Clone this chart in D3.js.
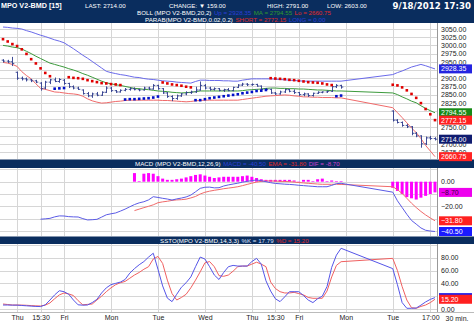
<!DOCTYPE html>
<html><head><meta charset="utf-8">
<script src="https://cdn.jsdelivr.net/npm/d3@7"></script>
<style>body{margin:0;background:#fff}svg{display:block}text{font-family:"Liberation Sans",Arial,sans-serif}</style>
</head><body><svg id="c" width="474" height="325"></svg>
<script>
// ---------- DATA ----------
const barIndex = d3.range(0, 73).concat(d3.range(83, 93)); // bar slots (Mon 17 Sep holiday empty)
const xTicks = [3, 8, 13, 23, 33, 43, 53, 58, 63, 73, 83, 91];
const xTickLabels = ["Thu","15:30","Fri","Mon","Tue","Wed","Thu","15:30","Fri","Mon","Tue","17:00"];
const priceTicks = [2675,2700,2725,2750,2775,2800,2825,2850,2875,2900,2925,2950,2975,3000,3025,3050];
const macdGrid = [-40,-30,-20,-10,0,10];
const macdTicks = [-40,-20,0];
const sstoGrid = [0,20,40,60,80,100];
const sstoTicks = [0,20,40,60,80];

const open = [2955,2952,2950,2918,2900,2898,2895,2892,2885,2870,
  2888,2895,2890,2894,2884,2874,2870,2864,2853,2846,
  2852,2848,2857,2870,2862,2858,2863,2866,2868,2865,
  2864,2870,2867,2878,2868,2855,2844,2838,2846,2852,
  2856,2858,2864,2878,2870,2866,2868,2863,2865,2862,
  2872,2879,2882,2880,2881,2876,2866,2866,2855,2852,
  2858,2865,2860,2856,2850,2852,2847,2854,2857,2858,
  2860,2874,2878,
  2800,2772,2765,2756,2752,2732,2724,2700,2718,2716];
const high = [2958,2956,2965,2920,2905,2902,2898,2895,2888,2892,
  2898,2902,2900,2898,2886,2878,2874,2866,2858,2856,
  2858,2860,2875,2874,2864,2866,2870,2872,2872,2868,
  2874,2874,2882,2880,2870,2858,2848,2850,2855,2860,
  2862,2874,2890,2882,2874,2872,2870,2868,2870,2874,
  2882,2886,2885,2884,2883,2878,2870,2868,2858,2862,
  2868,2868,2866,2858,2856,2854,2856,2860,2860,2862,
  2878,2882,2880,
  2802,2775,2768,2760,2754,2736,2726,2722,2724,2720];
const low = [2948,2946,2937,2895,2893,2890,2888,2885,2862,2866,
  2882,2888,2886,2880,2870,2866,2864,2850,2842,2840,
  2845,2846,2855,2858,2855,2856,2860,2862,2863,2860,
  2862,2864,2865,2865,2852,2840,2830,2834,2843,2848,
  2852,2855,2862,2866,2862,2862,2860,2858,2860,2860,
  2870,2876,2876,2877,2874,2864,2865,2852,2849,2850,
  2855,2857,2852,2846,2845,2843,2844,2852,2854,2855,
  2858,2870,2868,
  2768,2762,2752,2748,2726,2720,2688,2696,2712,2710];
const close = [2952,2950,2945,2900,2898,2895,2892,2888,2868,2888,
  2895,2890,2896,2884,2874,2870,2866,2853,2846,2852,
  2848,2857,2870,2862,2858,2863,2866,2868,2865,2864,
  2870,2867,2878,2868,2855,2844,2838,2846,2852,2856,
  2858,2864,2878,2870,2866,2868,2863,2865,2862,2872,
  2879,2882,2880,2881,2876,2866,2866,2855,2852,2858,
  2865,2860,2856,2850,2852,2847,2854,2857,2858,2860,
  2874,2878,2873,
  2772,2765,2756,2752,2732,2724,2700,2718,2716,2714];

const bollUp = [3056,3055,3053,3052,3050,3045,3041,3036,3031,3027,
  3022,3017,3013,3008,2999,2990,2980,2970,2961,2951,
  2941,2931,2921,2917,2914,2911,2909,2906,2903,2902,
  2899,2897,2896,2894,2892,2891,2890,2888,2887,2886,
  2885,2890,2894,2894,2893,2893,2893,2892,2892,2891,
  2891,2894,2896,2898,2898,2898,2898,2898,2897,2896,
  2895,2894,2893,2892,2891,2891,2891,2891,2891,2891,
  2891,2891,2891,
  2911,2917,2922,2928,2934,2938,2942,2938,2933,2928.35];
const bollMid = [3000,2998,2995,2993,2989,2982,2975,2967,2960,2953,
  2946,2942,2938,2934,2929,2925,2920,2914,2909,2903,
  2897,2891,2886,2883,2880,2878,2875,2872,2869,2868,
  2866,2865,2863,2861,2860,2859,2857,2856,2855,2856,
  2857,2859,2861,2861,2861,2861,2861,2861,2861,2861,
  2861,2862,2864,2865,2866,2867,2869,2870,2870,2869,
  2869,2868,2868,2867,2867,2866,2865,2864,2864,2863,
  2862,2861,2861,
  2855,2850,2843,2837,2830,2825,2816,2808,2801,2794.55];
const bollLo = [2948,2946,2942,2936,2920,2908,2898,2883,2869,2866,
  2862,2858,2857,2855,2853,2852,2850,2845,2837,2831,
  2827,2824,2825,2827,2829,2830,2832,2833,2833,2833,
  2833,2833,2833,2833,2832,2832,2831,2830,2829,2828,
  2829,2831,2832,2833,2833,2833,2833,2833,2833,2833,
  2833,2835,2837,2839,2841,2843,2845,2846,2847,2848,
  2849,2848,2846,2845,2843,2843,2842,2842,2841,2841,
  2841,2840,2840,
  2810,2795,2780,2764,2748,2734,2716,2695,2678,2660.75];

const sar = [3019,3012,3004,2998,2988,2974,2958,2945,2930,2916,2906,
  2868,2869,2870,
  2903,2901,2900,2898,2894,2891,2888,2885,2884,2882,2881,2879,
  2835,2836,2836,2837,2838,2839,2841,2844,
  2887,2884,2881,2879,2877,2874,2872,
  2833,2833,2836,2839,2841,2843,2845,2847,2849,2851,2854,2856,2858,2861,2862,2864,
  2900,2899,2898,2897,2895,2894,2892,2890,2888,2887,2886,2884,2881,2879,
  2845,2847,
  2880,2878,2872,2863,2852,2840,2824,2806,2790,2772.15];
const sarSide = ("SSSSSSSSSSS" + "LLL" + "SSSSSSSSSSSS" + "LLLLLLLL" + "SSSSSSS" +
  "LLLLLLLLLLLLLLLL" + "SSSSSSSSSSSSSS" + "LL" + "SSSSSSSSSS").split("");

const macd = [null,null,null,null,null,null,null,null,-30.5,-30.2,
  -29.8,-28.6,-27.8,-27.9,-28.4,-28.6,-28.7,-30.0,-31.1,-30.9,
  -30.6,-28.8,-26.9,-26.1,-25.4,-23.9,-22.3,-20.4,-18.6,-17.2,
  -16.3,-14.8,-12.2,-12.8,-13.5,-14.1,-14.9,-14.0,-13.3,-12.4,
  -10.9,-8.2,-5.4,-4.5,-4.4,-5.0,-4.9,-3.5,-2.6,-1.9,
  -1.2,-0.4,0.3,0.9,1.4,0.8,0,-0.8,-1.4,-1.7,
  -2.0,-2.2,-2.5,-2.9,-3.2,-3.5,-3.8,-4.1,-4.1,-4.1,
  -3.0,-1.6,-1.3,
  -8.5,-15.5,-21,-26.5,-31.5,-34.5,-37.6,-39.5,-40.1,-40.5];
const macdSignal = [null,null,null,null,null,null,null,null,null,null,
  null,null,null,null,null,null,null,null,null,null,
  null,null,null,null,null,null,null,null,-23.5,-22.3,
  -21.1,-20.0,-18.8,-17.1,-16.4,-15.9,-15.2,-14.8,-14.6,-14.2,
  -13.2,-12.0,-10.0,-8.6,-7.7,-7.0,-6.4,-5.7,-5.2,-4.7,
  -4.1,-3.2,-2.2,-1.2,-0.3,0.3,0.6,0.6,0.5,0.3,
  0.2,0,-0.3,-0.7,-1.0,-1.3,-1.6,-1.9,-2.1,-2.1,
  -2.1,-2.1,-2.2,
  -4.1,-6.5,-9.5,-13.5,-17.5,-21.0,-24.2,-27.0,-29.5,-31.8];
const macdHist = [null,null,null,null,null,null,null,null,null,null,
  null,null,null,null,null,null,null,null,null,null,
  null,null,null,null,null,null,null,null,7,0.5,
  6.5,7,6.5,4.5,2.5,1.5,1.5,2,2.5,3.5,
  4.5,5.5,6,5,4,3,3.5,4,4,4,
  4,4.5,5,4,3,2,1.5,1.5,1.5,1.5,
  1.5,1.5,1,0,1.5,1.5,0.5,2,2.5,0.5,
  1,0.5,0.3,
  -5,-7.5,-10,-12.5,-13.5,-14.5,-13,-11.5,-10,-8.7];

const stochK = [6.2,6.2,6,6,5.5,5,4.5,4,3.8,6.5,
  14,22,28.5,27,23,14,6.5,6,6.2,10,
  15,25,33,38,40,42,46,56,63,69,
  74,81,87,62,36,17,11.5,23,34,41,
  50,66,81,78,66,53,46,57,66,68,
  67,67,67,74,79,70,44,28,16,11.5,
  19,27,27,27,21,14,10,16,20,35,
  65,84,94.7,
  63,38,10,1.1,1.1,1.5,6,11,15,17.79];
const stochD = [7.8,7,6.2,6.2,6.1,5.8,5.3,4.9,4.7,6,
  9.5,16,22,25,23.5,21,13,6.5,7.2,7.8,
  14,20,27,33,38,41,43,48,53,57,
  62,66,78,82,71,45,24,14,18,23,
  33,45,58,72,74,66,52,51,53,59,
  66,67,67,70,73,70,66,42,32,27,
  25,25,26,24,22,18,16.7,16.7,16.7,28,
  50,68,73.8,
  79,60,35,14,2,1.1,4,6.2,10,15.2];

// header texts
const hdrTitle = "MPO V2-BMD [15]";
const hdrLast = "LAST: 2714.00";
const hdrChange = "CHANGE: \u25BC 159.00";
const hdrHigh = "HIGH: 2791.00";
const hdrLow = "LOW: 2603.00";
const hdrDate = "9/18/2012 17:30";
const bollLegend = [["BOLL (MPO V2-BMD,20,2)","#ffffff"],["Up = 2928.35","#2a3fd8"],["MA = 2794.55","#2e9a2e"],["Lo = 2660.75","#e02a2a"]];
const parabLegend = [["PARAB(MPO V2-BMD,0.02,0.2)","#ffffff"],["SHORT = 2772.15","#e02a2a"],["LONG = 0.00","#2a3fd8"]];
const macdLegend = [["MACD (MPO V2-BMD,12,26,9)","#ffffff"],["MACD = -40.50","#2a3fd8"],["EMA = -31.80","#e02a2a"],["DIF = -8.70","#d040d0"]];
const sstoLegend = [["SSTO(MPO V2-BMD,14,3,3)","#ffffff"],["%K = 17.79","#dde2ff"],["%D = 15.20","#e02a2a"]];

// ---------- DRAW ----------
const svg = d3.select("#c");
const NAVY = "#0a2d5e", GRID = "#d6d6d6", PR = 437;
const x = d3.scaleLinear().domain([0, 92]).range([3, 435]);
const yP = d3.scaleLinear().domain([2653.6, 3068.3]).range([159, 23]);
const yM = d3.scaleLinear().domain([-44.15, 11.14]).range([236, 168]);
const yS = d3.scaleLinear().domain([-4.68, 101.4]).range([312, 244]);
const bars = barIndex.map((k, i) => ({k, i}));
const last = barIndex.length - 1;

svg.append("rect").attr("width", 474).attr("height", 325).attr("fill", "#fff");

function grid(ys, vals, top, bot) {
  const g = svg.append("g");
  g.selectAll("line.h").data(vals).join("line")
    .attr("x1", 0).attr("x2", PR).attr("y1", d => Math.round(ys(d)) + 0.5).attr("y2", d => Math.round(ys(d)) + 0.5)
    .attr("stroke", GRID);
  g.selectAll("line.v").data(xTicks).join("line")
    .attr("x1", d => Math.round(x(d)) + 0.5).attr("x2", d => Math.round(x(d)) + 0.5)
    .attr("y1", top).attr("y2", bot).attr("stroke", GRID);
}
grid(yP, priceTicks, 23, 159);
grid(yM, macdGrid, 168, 236);
grid(yS, sstoGrid, 244, 312);

// header bars
svg.append("rect").attr("x", 0).attr("y", 0).attr("width", 474).attr("height", 23).attr("fill", NAVY);
svg.append("rect").attr("x", 0).attr("y", 159.5).attr("width", 474).attr("height", 8.5).attr("fill", NAVY);
svg.append("rect").attr("x", 0).attr("y", 236.5).attr("width", 474).attr("height", 7.5).attr("fill", NAVY);

// frame lines
[[23, 159.5], [168, 236.5], [244, 312]].forEach(([a, b]) =>
  svg.append("line").attr("x1", PR + 0.5).attr("x2", PR + 0.5).attr("y1", a).attr("y2", b).attr("stroke", "#999"));
svg.append("line").attr("x1", 0).attr("x2", 474).attr("y1", 312.5).attr("y2", 312.5).attr("stroke", "#bbb");

// header texts
function seq(x0, y, parts, size) {
  let cx = x0;
  parts.forEach(([t, c]) => {
    const n = svg.append("text").attr("x", cx).attr("y", y).attr("fill", c).attr("font-size", size).text(t);
    cx += n.node().getComputedTextLength() + 2.5;
  });
}
const hdr = (t, xx, y, size, bold, anchor) => svg.append("text").attr("x", xx).attr("y", y).attr("fill", "#fff")
  .attr("font-size", size).attr("font-weight", bold ? "bold" : "normal").attr("text-anchor", anchor || "start").text(t);
hdr(hdrTitle, 1, 8, 7.2, true);
hdr(hdrLast, 85, 8, 6.2);
hdr(hdrChange, 169, 8, 6.2);
hdr(hdrHigh, 267, 8, 6.2);
hdr(hdrLow, 327, 8, 6.2);
hdr(hdrDate, 471, 8.5, 8.6, true, "end").style("font-family", "'DejaVu Sans',sans-serif");
seq(137, 15, bollLegend, 6.2);
seq(145, 21.8, parabLegend, 6.2);
seq(135, 166, macdLegend, 6.2);
seq(160, 242.5, sstoLegend, 6.2);

// Bollinger bands
const lineOf = (arr, ys) => d3.line().defined(d => arr[d.i] != null).x(d => x(d.k)).y(d => ys(arr[d.i]));
[[bollUp, "#6a6aea"], [bollMid, "#3c9a3c"], [bollLo, "#f06a6a"]].forEach(([arr, c]) => {
  svg.append("path").datum(bars).attr("d", lineOf(arr, yP)).attr("fill", "none").attr("stroke", c).attr("stroke-width", 1);
});

// OHLC bars
svg.append("g").selectAll("path").data(bars).join("path")
  .attr("d", d => {
    const xx = Math.round(x(d.k)) + 0.5;
    return `M${xx},${yP(high[d.i])}V${yP(low[d.i])}M${xx - 1.8},${yP(open[d.i])}H${xx}M${xx},${yP(close[d.i])}H${xx + 1.8}`;
  })
  .attr("fill", "none").attr("stroke", "#2c3a8c").attr("stroke-width", 0.9);

// Parabolic SAR
svg.append("g").selectAll("rect").data(bars).join("rect")
  .attr("x", d => x(d.k) - 1.3).attr("y", d => yP(sar[d.i]) - 1.3).attr("width", 2.6).attr("height", 2.6)
  .attr("fill", d => sarSide[d.i] === "S" ? "#e00000" : "#0010c8");

// MACD
svg.append("g").selectAll("rect").data(bars.filter(d => macdHist[d.i] != null)).join("rect")
  .attr("x", d => x(d.k) - 1.5).attr("width", 3)
  .attr("y", d => Math.min(yM(0), yM(macdHist[d.i])))
  .attr("height", d => Math.max(0.6, Math.abs(yM(macdHist[d.i]) - yM(0))))
  .attr("fill", "#ff00ff");
svg.append("path").datum(bars).attr("d", lineOf(macdSignal, yM)).attr("fill", "none").attr("stroke", "#f06a6a");
svg.append("path").datum(bars).attr("d", lineOf(macd, yM)).attr("fill", "none").attr("stroke", "#5b5be6");

// Stochastic
svg.append("path").datum(bars).attr("d", lineOf(stochD, yS)).attr("fill", "none").attr("stroke", "#f06060");
svg.append("path").datum(bars).attr("d", lineOf(stochK, yS)).attr("fill", "none").attr("stroke", "#5555e8");

// value boxes (drawn in order; later boxes cover earlier)
const priceBoxes = [[bollUp[last], "#2424e0", "#fff", true], [bollMid[last], "#168a16", "#fff", true],
  [sar[last], "#ff2020", "#fff", true], [close[last], "#101c70", "#fff", true], [bollLo[last], "#ff2424", "#fff", true]];
const macdBoxes = [[macdHist[last], "#ee00ee", "#3a003a", true], [macdSignal[last], "#ff2020", "#fff", true],
  [macd[last], "#1a1aff", "#fff", true]];
const sstoBoxes = [[stochK[last], "#2020e8", "#fff", false], [stochD[last], "#ff2020", "#fff", true]];

// right axes: tick labels covered by a value box are left out
function rightAxis(ys, vals, boxes) {
  const shown = vals.filter(v => !boxes.some(b => Math.abs(ys(b[0]) - ys(v)) < 4.5));
  const g = svg.append("g").attr("transform", `translate(${PR + 1},0)`)
    .call(d3.axisRight(ys).tickValues(shown).tickFormat(d3.format(".2f")).tickSize(0).tickPadding(3));
  g.select(".domain").remove();
  g.selectAll("text").attr("font-size", 7).attr("fill", "#222").style("font-family", "'Liberation Sans',Arial,sans-serif");
}
rightAxis(yP, priceTicks, priceBoxes);
rightAxis(yM, macdTicks, macdBoxes);
rightAxis(yS, sstoTicks, sstoBoxes);

function box(ys, [v, bg, fg, withText]) {
  const yy = ys(v);
  svg.append("rect").attr("x", 439).attr("y", yy - 4.5).attr("width", 33).attr("height", 9).attr("fill", bg);
  if (withText) svg.append("text").attr("x", 441).attr("y", yy + 2.5).attr("font-size", 7).attr("fill", fg).text(d3.format(".2f")(v));
}
priceBoxes.forEach(b => box(yP, b));
macdBoxes.forEach(b => box(yM, b));
sstoBoxes.forEach(b => box(yS, b));

// x axis
const xa = svg.append("g").attr("transform", "translate(0,312)")
  .call(d3.axisBottom(x).tickValues(xTicks).tickFormat((d, i) => xTickLabels[i]).tickSize(0).tickPadding(3));
xa.select(".domain").remove();
xa.selectAll("text").attr("font-size", 7).attr("fill", "#222").style("font-family", "'Liberation Sans',Arial,sans-serif");
svg.append("text").attr("x", 457).attr("y", 321).attr("text-anchor", "middle").attr("font-size", 7).attr("fill", "#222").text("30 min.");
</script></body></html>
